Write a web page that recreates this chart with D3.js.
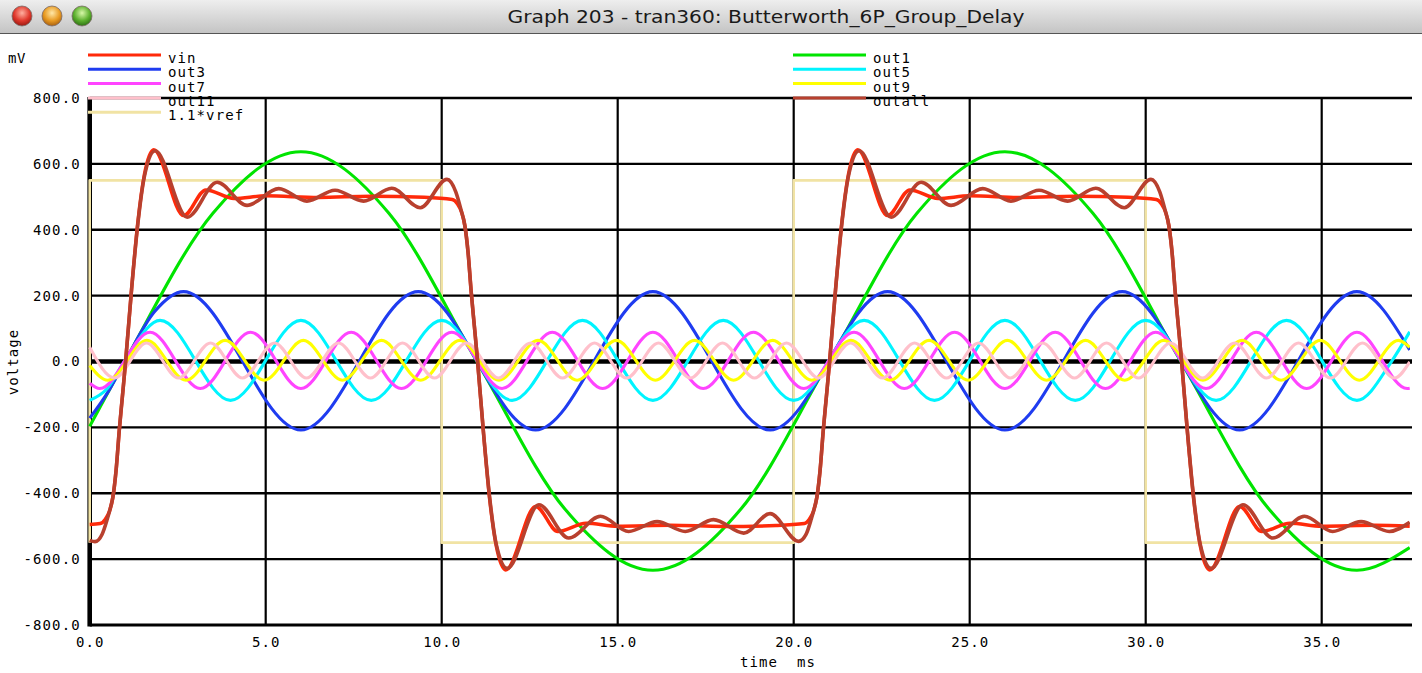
<!DOCTYPE html>
<html><head><meta charset="utf-8">
<script src="https://cdn.jsdelivr.net/npm/d3@7"></script>
<style>body{margin:0;background:#fff;} svg{display:block;}</style>
</head><body>
<svg id="chart" width="1422" height="673"></svg>
<script>
const titleText = "Graph 203 - tran360: Butterworth_6P_Group_Delay";
const xTicks = [0,5,10,15,20,25,30,35];
const xTickLabels = ["0.0","5.0","10.0","15.0","20.0","25.0","30.0","35.0"];
const yTicks = [800,600,400,200,0,-200,-400,-600,-800];
const yTickLabels = ["800.0","600.0","400.0","200.0","0.0","-200.0","-400.0","-600.0","-800.0"];
const legendLeft = ["vin","out3","out7","out11","1.1*vref"];
const legendRight = ["out1","out5","out9","outall"];

// time (ms) / value (mV) arrays
const vrefT = [0,0,10,10,20,20,30,30,37.5];
const vrefV = [-550,550,550,-550,-550,550,550,-550,-550];

const out1T = [0,1,3.5,6,8.5,11,13.5,16,18.5,21,23.5,26,28.5,31,33.5,36,37.5];
const out1V = [-197,0,450,637,450,0,-448,-634,-448,0,450,637,450,0,-448,-634,-565];

const out3T = [0,0.5,1,1.833,2.667,6,9.333,12.667,16,19.333,22.667,26,29.333,32.667,36,37.5];
const out3V = [-172,-96,0,150,212,-208,212,-208,212,-208,212,-208,212,-208,212,35];

const out5T = [0,0.5,1,2,4,6,8,10,12,14,16,18,20,22,24,26,28,30,32,34,36,37,37.5];
const out5V = [-118,-82,3,125,-118,125,-118,125,-118,125,-118,125,-118,125,-118,125,-118,125,-118,125,-118,3,90];

const out7T = [0,0.286,1.714,3.143,4.571,6,7.429,8.857,10.286,11.714,13.143,14.571,16,17.429,18.857,20.286,21.714,23.143,24.571,26,27.429,28.857,30.286,31.714,33.143,34.571,36,37.429,37.5];
const out7V = [-66,-82,89,-82,89,-82,89,-82,89,-82,89,-82,89,-82,89,-82,89,-82,89,-82,89,-82,89,-82,89,-82,89,-82,-81];

const out9T = [0,0.514,1.625,2.736,3.847,4.958,6.070,7.181,8.292,9.403,10.514,11.625,12.736,13.847,14.958,16.070,17.181,18.292,19.403,20.514,21.625,22.736,23.847,24.958,26.070,27.181,28.292,29.403,30.514,31.625,32.736,33.847,34.958,36.070,37.181,37.5];
const out9V = [-12,-57,64,-57,64,-57,64,-57,64,-57,64,-57,64,-57,64,-57,64,-57,64,-57,64,-57,64,-57,64,-57,64,-57,64,-57,64,-57,64,-57,64,43];

const out11T = [0,0.705,1.614,2.523,3.432,4.341,5.250,6.159,7.068,7.977,8.887,9.796,10.705,11.614,12.523,13.432,14.341,15.250,16.159,17.068,17.977,18.887,19.796,20.705,21.614,22.523,23.432,24.341,25.250,26.159,27.068,27.977,28.887,29.796,30.705,31.614,32.523,33.432,34.341,35.250,36.159,37.068,37.5];
const out11V = [43,-50,56,-50,56,-50,56,-50,56,-50,56,-50,56,-50,56,-50,56,-50,56,-50,56,-50,56,-50,56,-50,56,-50,56,-50,56,-50,56,-50,56,-50,56,-50,56,-50,56,-50,-1];

const vinT = [0,0.3,0.45,0.56,0.66,0.75,0.84,0.93,1.02,1.19,1.37,1.55,1.82,2.67,3.3,4.1,5.0,6.5,8.0,9.5,
  10.3,10.45,10.56,10.66,10.75,10.84,10.93,11.02,11.19,11.37,11.55,11.82,12.67,13.3,14.1,15.0,16.5,18.0,19.5,
  20.3,20.45,20.56,20.66,20.75,20.84,20.93,21.02,21.19,21.37,21.55,21.82,22.67,23.3,24.1,25.0,26.5,28.0,29.5,
  30.3,30.45,30.56,30.66,30.75,30.84,30.93,31.02,31.19,31.37,31.55,31.82,32.67,33.3,34.1,35.0,36.5,37.5];
const vinV = [-495,-492,-478,-455,-411,-330,-209,-105,0,220,425,565,643,443,521,495,503,498,502,499,
  492,478,455,411,330,209,105,0,-220,-425,-560,-633,-440,-516,-491,-500,-497,-501,-498,
  -492,-478,-455,-411,-330,-209,-105,0,220,425,565,643,443,521,495,503,498,502,499,
  492,478,455,411,330,209,105,0,-220,-425,-560,-633,-440,-516,-491,-500,-497,-500];

const outallT = [0,0.15,0.35,0.5,0.6,0.66,0.75,0.84,0.93,1.02,1.19,1.37,1.55,1.86,2.77,3.62,4.47,5.37,6.17,6.97,7.78,8.58,9.39,10.15,10.4,10.55,
  10.66,10.75,10.84,10.93,11.02,11.19,11.37,11.55,11.86,12.76,13.61,14.51,15.31,16.12,16.92,17.72,18.58,19.33,20.14,20.35,20.5,20.6,
  20.66,20.75,20.84,20.93,21.02,21.19,21.37,21.55,21.86,22.77,23.62,24.47,25.37,26.17,26.97,27.78,28.58,29.39,30.15,30.4,30.55,
  30.66,30.75,30.84,30.93,31.02,31.19,31.37,31.55,31.86,32.76,33.61,34.51,35.31,36.12,36.92,37.5];
const outallV = [-543,-547,-525,-478,-440,-411,-330,-209,-105,0,220,420,560,640,438,544,474,525,487,520,487,526,467,553,515,460,
  411,330,209,105,0,-220,-420,-555,-628,-435,-536,-470,-516,-486,-516,-480,-521,-462,-546,-525,-478,-440,
  -411,-330,-209,-105,0,220,420,560,640,438,544,474,525,487,520,487,526,467,553,515,460,
  411,330,209,105,0,-220,-420,-555,-628,-435,-536,-470,-516,-486,-516,-488];

const seriesColors = {
  "vin":"#ff2a0a","out3":"#1f3cf0","out7":"#ff44ff","out11":"#ffc0cb","1.1*vref":"#f1e3a4",
  "out1":"#00e400","out5":"#00f4ff","out9":"#ffff00","outall":"#b8402e"
};

const W = 1422, H = 673;
const svg = d3.select("#chart");
const x = d3.scaleLinear().domain([0,37.5]).range([89.7,1409.7]);
const y = d3.scaleLinear().domain([-800,800]).range([625,98]);
const mono = "'DejaVu Sans Mono','Liberation Mono',monospace";

// ---- title bar ----
const defs = svg.append("defs");
const tb = defs.append("linearGradient").attr("id","tb").attr("x1",0).attr("y1",0).attr("x2",0).attr("y2",1);
tb.append("stop").attr("offset","0%").attr("stop-color","#eeeeee");
tb.append("stop").attr("offset","100%").attr("stop-color","#c4c4c4");
svg.append("rect").attr("x",0).attr("y",0).attr("width",W).attr("height",33).attr("fill","url(#tb)");
svg.append("line").attr("x1",0).attr("x2",W).attr("y1",33.5).attr("y2",33.5).attr("stroke","#555").attr("stroke-width",1);
const lights = [{cx:22,c0:"#ffb0a0",c1:"#e0382c",c2:"#9a1a12"},{cx:52,c0:"#ffe8a8",c1:"#e89a22",c2:"#a86010"},{cx:82,c0:"#d8f8a8",c1:"#5cb02e",c2:"#2e7014"}];
lights.forEach((l,i)=>{
  const g = defs.append("radialGradient").attr("id","lg"+i).attr("cx","50%").attr("cy","35%").attr("r","65%");
  g.append("stop").attr("offset","0%").attr("stop-color",l.c0);
  g.append("stop").attr("offset","60%").attr("stop-color",l.c1);
  g.append("stop").attr("offset","100%").attr("stop-color",l.c2);
  svg.append("circle").attr("cx",l.cx).attr("cy",16).attr("r",10).attr("fill","url(#lg"+i+")").attr("stroke","#7a6a66").attr("stroke-width",0.8);
});
svg.append("text").attr("x",766).attr("y",23).attr("text-anchor","middle")
  .attr("font-family","'Lucida Grande','DejaVu Sans',sans-serif").attr("font-size",18).attr("fill","#1a1a1a")
  .attr("textLength",517).attr("lengthAdjust","spacingAndGlyphs").text(titleText);

// ---- grid ----
const grid = svg.append("g");
xTicks.filter(d=>d>0).forEach(d=>{
  grid.append("line").attr("x1",x(d)).attr("x2",x(d)).attr("y1",y(800)).attr("y2",y(-800)).attr("stroke","#000").attr("stroke-width",2.2);
});
yTicks.forEach(d=>{
  grid.append("line").attr("x1",x(0)).attr("x2",1412).attr("y1",y(d)).attr("y2",y(d)).attr("stroke","#000")
    .attr("stroke-width", d===0 ? 4.5 : (d===-800 ? 3 : 2.4));
});
grid.append("line").attr("x1",x(0)).attr("x2",x(0)).attr("y1",y(800)-1).attr("y2",y(-800)+1.5).attr("stroke","#000").attr("stroke-width",4.6);

// ---- axes labels via d3 axes ----
const yAxis = d3.axisLeft(y).tickValues(yTicks).tickFormat((d,i)=>yTickLabels[i]).tickSize(0).tickPadding(9);
const ya = svg.append("g").attr("transform",`translate(${x(0)},0)`).call(yAxis);
ya.select(".domain").remove();
ya.selectAll("text").attr("font-family",mono).attr("font-size",14).attr("letter-spacing","1.1px").attr("fill","#000");

const xAxis = d3.axisBottom(x).tickValues(xTicks).tickFormat((d,i)=>xTickLabels[i]).tickSize(0).tickPadding(12);
const xa = svg.append("g").attr("transform",`translate(0,${y(-800)})`).call(xAxis);
xa.select(".domain").remove();
xa.selectAll("text").attr("font-family",mono).attr("font-size",14).attr("letter-spacing","1.1px").attr("fill","#000");

svg.append("text").attr("x",778).attr("y",667).attr("text-anchor","middle").attr("font-family",mono).attr("font-size",14)
  .attr("letter-spacing","1.1px").style("white-space","pre").text("time  ms");
svg.append("text").attr("transform","translate(18,362) rotate(-90)").attr("text-anchor","middle").attr("font-family",mono)
  .attr("font-size",14).attr("letter-spacing","1.1px").text("voltage");
svg.append("text").attr("x",8).attr("y",63).attr("font-family",mono).attr("font-size",14).attr("letter-spacing","0.5px").text("mV");

// ---- series ----
const table = [
  {name:"1.1*vref", t:vrefT, v:vrefV, curve:d3.curveLinear},
  {name:"out1", t:out1T, v:out1V},
  {name:"out3", t:out3T, v:out3V},
  {name:"out5", t:out5T, v:out5V},
  {name:"out7", t:out7T, v:out7V},
  {name:"out9", t:out9T, v:out9V},
  {name:"out11", t:out11T, v:out11V},
  {name:"vin", t:vinT, v:vinV},
  {name:"outall", t:outallT, v:outallV}
];
const widths = {"1.1*vref":2.6, "vin":3.5, "outall":3.6};
defs.append("clipPath").attr("id","plotclip").append("rect").attr("x",86).attr("y",90).attr("width",1324).attr("height",540);
const plot = svg.append("g").attr("clip-path","url(#plotclip)");
table.forEach(s=>{
  const pts = s.t.map((t,i)=>[t,s.v[i]]);
  const line = d3.line().x(d=>x(d[0])).y(d=>y(d[1])).curve(s.curve || d3.curveMonotoneX);
  plot.append("path").attr("d",line(pts)).attr("fill","none").attr("stroke",seriesColors[s.name])
    .attr("stroke-width", widths[s.name] || 3.1).attr("stroke-linejoin","round");
});

// ---- legend ----
function legend(names, x1, x2, tx){
  names.forEach((n,i)=>{
    const ly = 55 + 14.3*i;
    svg.append("line").attr("x1",x1).attr("x2",x2).attr("y1",ly).attr("y2",ly).attr("stroke",seriesColors[n]).attr("stroke-width",3);
    svg.append("text").attr("x",tx).attr("y",ly+8).attr("font-family",mono).attr("font-size",14)
      .attr("letter-spacing","1.1px").attr("fill","#000").text(n);
  });
}
legend(legendLeft, 88, 161, 168);
legend(legendRight, 793, 866, 873);
</script>
</body></html>
